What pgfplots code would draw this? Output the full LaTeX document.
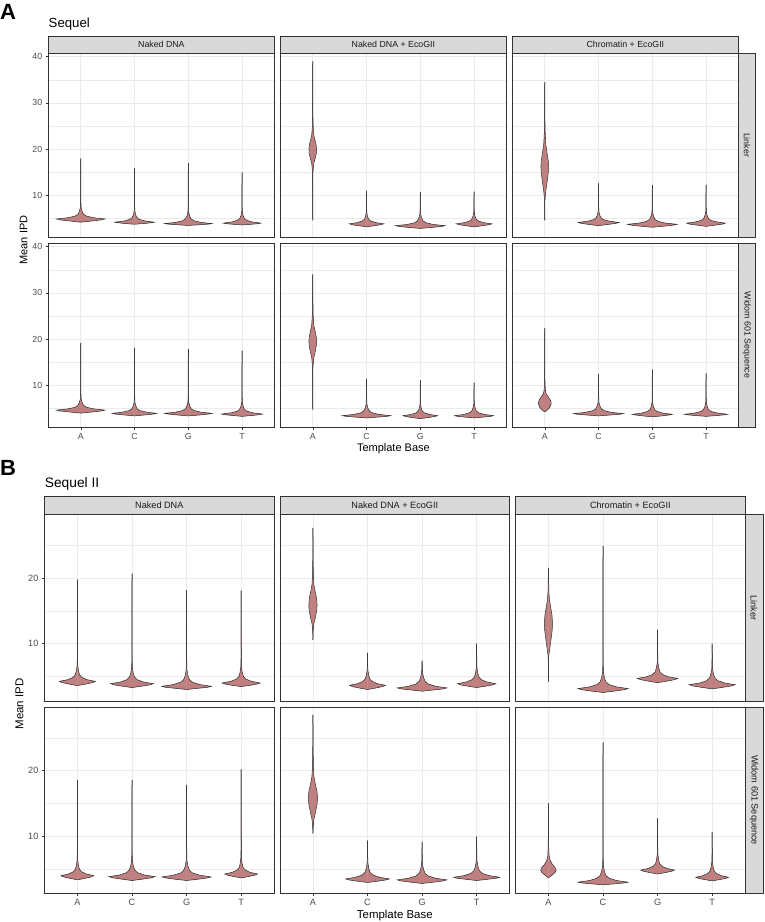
\documentclass[border=0pt]{standalone}
\usepackage{fontspec}
\setmainfont{Liberation Sans}
\usepackage{pgfplots}
\usepackage{pgfplotstable}
\pgfplotsset{compat=1.18}
\definecolor{vfill}{RGB}{192,128,128}
\definecolor{grey20}{HTML}{333333}
\definecolor{grey30}{HTML}{4D4D4D}
\definecolor{grey10}{HTML}{1A1A1A}
\definecolor{grey85}{HTML}{D9D9D9}
\definecolor{grey92}{HTML}{EBEBEB}

% ---------- Sequel (panel A) ----------
% Linker
\pgfplotstableread[row sep=\\]{y w\\ 4.2 0\\ 4.45 0.20\\ 4.69 0.38\\ 4.9 0.45\\ 5.15 0.25\\ 5.5 0.11\\ 5.9 0.054\\ 6.5 0.027\\ 7.4 0.007\\ 8.9 0.003\\ 18.0 0\\}\vALNA
\pgfplotstableread[row sep=\\]{y w\\ 3.75 0\\ 3.91 0.17\\ 4.07 0.31\\ 4.2 0.37\\ 4.45 0.20\\ 4.8 0.093\\ 5.2 0.044\\ 5.8 0.022\\ 6.7 0.0055\\ 8.2 0.0025\\ 15.9 0\\}\vALNC
\pgfplotstableread[row sep=\\]{y w\\ 3.5 0\\ 3.64 0.20\\ 3.78 0.37\\ 3.9 0.44\\ 4.15 0.24\\ 4.5 0.11\\ 4.9 0.053\\ 5.5 0.026\\ 6.4 0.0065\\ 7.9 0.003\\ 17.0 0\\}\vALNG
\pgfplotstableread[row sep=\\]{y w\\ 3.6 0\\ 3.74 0.16\\ 3.88 0.30\\ 4.0 0.35\\ 4.25 0.19\\ 4.6 0.088\\ 5.0 0.042\\ 5.6 0.021\\ 6.5 0.0055\\ 8.0 0.002\\ 15.0 0\\}\vALNT
\pgfplotstableread[row sep=\\]{y w\\ 4.6 0\\ 10 0.002\\ 15 0.004\\ 17 0.02\\ 18 0.045\\ 19 0.065\\ 20 0.071\\ 21 0.062\\ 22 0.04\\ 23 0.02\\ 24.5 0.01\\ 27 0.004\\ 32 0.002\\ 39 0\\}\vALEA
\pgfplotstableread[row sep=\\]{y w\\ 3.2 0\\ 3.43 0.144\\ 3.66 0.27\\ 3.85 0.32\\ 4.1 0.176\\ 4.45 0.08\\ 4.85 0.038\\ 5.45 0.019\\ 6.35 0.005\\ 7.85 0.002\\ 11.0 0\\}\vALEC
\pgfplotstableread[row sep=\\]{y w\\ 2.85 0\\ 3.06 0.21\\ 3.27 0.39\\ 3.45 0.46\\ 3.7 0.25\\ 4.05 0.115\\ 4.45 0.055\\ 5.05 0.028\\ 5.95 0.007\\ 7.45 0.003\\ 10.7 0\\}\vALEG
\pgfplotstableread[row sep=\\]{y w\\ 3.2 0\\ 3.43 0.15\\ 3.66 0.28\\ 3.85 0.33\\ 4.1 0.18\\ 4.45 0.083\\ 4.85 0.04\\ 5.45 0.02\\ 6.35 0.005\\ 7.85 0.002\\ 10.8 0\\}\vALET
\pgfplotstableread[row sep=\\]{y w\\ 4.6 0\\ 7 0.002\\ 9 0.004\\ 11 0.02\\ 13 0.045\\ 15 0.066\\ 16.3 0.072\\ 17.5 0.065\\ 19 0.045\\ 21 0.02\\ 23 0.01\\ 26 0.004\\ 30 0.002\\ 34.5 0\\}\vALCA
\pgfplotstableread[row sep=\\]{y w\\ 3.45 0\\ 3.7 0.17\\ 3.94 0.32\\ 4.15 0.38\\ 4.4 0.21\\ 4.75 0.095\\ 5.15 0.046\\ 5.75 0.023\\ 6.65 0.0055\\ 8.15 0.0025\\ 12.6 0\\}\vALCC
\pgfplotstableread[row sep=\\]{y w\\ 3.1 0\\ 3.33 0.21\\ 3.56 0.39\\ 3.75 0.46\\ 4.0 0.25\\ 4.35 0.115\\ 4.75 0.055\\ 5.35 0.028\\ 6.25 0.007\\ 7.75 0.003\\ 12.2 0\\}\vALCG
\pgfplotstableread[row sep=\\]{y w\\ 3.3 0\\ 3.55 0.16\\ 3.79 0.31\\ 4.0 0.36\\ 4.25 0.2\\ 4.6 0.09\\ 5.0 0.043\\ 5.6 0.022\\ 6.5 0.0055\\ 8.0 0.002\\ 12.3 0\\}\vALCT
% Widom 601
\pgfplotstableread[row sep=\\]{y w\\ 4.0 0\\ 4.23 0.2\\ 4.46 0.38\\ 4.65 0.45\\ 4.9 0.25\\ 5.25 0.11\\ 5.65 0.054\\ 6.25 0.027\\ 7.15 0.007\\ 8.65 0.003\\ 19.2 0\\}\vAWNA
\pgfplotstableread[row sep=\\]{y w\\ 3.4 0\\ 3.59 0.18\\ 3.79 0.35\\ 3.95 0.41\\ 4.2 0.23\\ 4.55 0.1\\ 4.95 0.049\\ 5.55 0.025\\ 6.45 0.006\\ 7.95 0.0025\\ 18.1 0\\}\vAWNC
\pgfplotstableread[row sep=\\]{y w\\ 3.4 0\\ 3.59 0.2\\ 3.79 0.37\\ 3.95 0.44\\ 4.2 0.24\\ 4.55 0.11\\ 4.95 0.053\\ 5.55 0.026\\ 6.45 0.0065\\ 7.95 0.003\\ 17.9 0\\}\vAWNG
\pgfplotstableread[row sep=\\]{y w\\ 3.3 0\\ 3.48 0.17\\ 3.65 0.32\\ 3.8 0.38\\ 4.05 0.21\\ 4.4 0.095\\ 4.8 0.046\\ 5.4 0.023\\ 6.3 0.0055\\ 7.8 0.0025\\ 17.5 0\\}\vAWNT
\pgfplotstableread[row sep=\\]{y w\\ 4.75 0\\ 10 0.002\\ 14 0.004\\ 16 0.02\\ 17.3 0.045\\ 18.5 0.065\\ 19.5 0.072\\ 20.5 0.065\\ 21.7 0.045\\ 23 0.02\\ 25 0.009\\ 28 0.004\\ 34 0\\}\vAWEA
\pgfplotstableread[row sep=\\]{y w\\ 2.95 0\\ 3.13 0.2\\ 3.3 0.38\\ 3.45 0.45\\ 3.7 0.25\\ 4.05 0.11\\ 4.45 0.054\\ 5.05 0.027\\ 5.95 0.007\\ 7.45 0.003\\ 11.4 0\\}\vAWEC
\pgfplotstableread[row sep=\\]{y w\\ 2.8 0\\ 3.03 0.144\\ 3.26 0.27\\ 3.45 0.32\\ 3.7 0.176\\ 4.05 0.08\\ 4.45 0.038\\ 5.05 0.019\\ 5.95 0.005\\ 7.45 0.002\\ 11.1 0\\}\vAWEG
\pgfplotstableread[row sep=\\]{y w\\ 2.95 0\\ 3.13 0.16\\ 3.3 0.31\\ 3.45 0.36\\ 3.7 0.2\\ 4.05 0.09\\ 4.45 0.043\\ 5.05 0.022\\ 5.95 0.0055\\ 7.45 0.002\\ 10.6 0\\}\vAWET
\pgfplotstableread[row sep=\\]{y w\\ 4.25 0\\ 4.6 0.04\\ 5.2 0.09\\ 5.8 0.115\\ 6.3 0.118\\ 6.9 0.1\\ 7.6 0.06\\ 8.2 0.025\\ 9 0.012\\ 10.5 0.005\\ 13 0.003\\ 16 0.002\\ 22.4 0\\}\vAWCA
\pgfplotstableread[row sep=\\]{y w\\ 3.4 0\\ 3.58 0.21\\ 3.75 0.39\\ 3.9 0.46\\ 4.15 0.25\\ 4.5 0.115\\ 4.9 0.055\\ 5.5 0.028\\ 6.4 0.007\\ 7.9 0.003\\ 12.5 0\\}\vAWCC
\pgfplotstableread[row sep=\\]{y w\\ 3.2 0\\ 3.39 0.17\\ 3.59 0.31\\ 3.75 0.37\\ 4.0 0.2\\ 4.35 0.093\\ 4.75 0.044\\ 5.35 0.022\\ 6.25 0.0055\\ 7.75 0.0025\\ 13.4 0\\}\vAWCG
\pgfplotstableread[row sep=\\]{y w\\ 3.3 0\\ 3.46 0.18\\ 3.62 0.34\\ 3.75 0.4\\ 4.0 0.22\\ 4.35 0.1\\ 4.75 0.048\\ 5.35 0.024\\ 6.25 0.006\\ 7.75 0.0025\\ 12.6 0\\}\vAWCT

% ---------- Sequel II (panel B) ----------
% Linker
\pgfplotstableread[row sep=\\]{y w\\ 3.6 0\\ 3.83 0.15\\ 4.06 0.28\\ 4.25 0.33\\ 4.5 0.18\\ 4.85 0.083\\ 5.25 0.04\\ 5.85 0.02\\ 6.75 0.005\\ 8.25 0.002\\ 19.8 0\\}\vBLNA
\pgfplotstableread[row sep=\\]{y w\\ 3.3 0\\ 3.51 0.18\\ 3.72 0.33\\ 3.9 0.39\\ 4.15 0.21\\ 4.5 0.098\\ 4.9 0.047\\ 5.5 0.023\\ 6.4 0.006\\ 7.9 0.0025\\ 20.7 0\\}\vBLNC
\pgfplotstableread[row sep=\\]{y w\\ 3.0 0\\ 3.18 0.2\\ 3.35 0.39\\ 3.5 0.455\\ 3.75 0.25\\ 4.1 0.114\\ 4.5 0.055\\ 5.1 0.027\\ 6.0 0.007\\ 7.5 0.003\\ 18.2 0\\}\vBLNG
\pgfplotstableread[row sep=\\]{y w\\ 3.45 0\\ 3.64 0.16\\ 3.84 0.3\\ 4.0 0.35\\ 4.25 0.19\\ 4.6 0.088\\ 5.0 0.042\\ 5.6 0.021\\ 6.5 0.0055\\ 8.0 0.002\\ 18.1 0\\}\vBLNT
\pgfplotstableread[row sep=\\]{y w\\ 10.6 0\\ 12 0.005\\ 13 0.015\\ 14 0.045\\ 15 0.068\\ 15.9 0.076\\ 17 0.066\\ 18 0.04\\ 19 0.018\\ 20.5 0.008\\ 23 0.003\\ 27.7 0\\}\vBLEA
\pgfplotstableread[row sep=\\]{y w\\ 3.0 0\\ 3.23 0.15\\ 3.46 0.28\\ 3.65 0.33\\ 3.9 0.18\\ 4.25 0.083\\ 4.65 0.04\\ 5.25 0.02\\ 6.15 0.005\\ 7.65 0.002\\ 8.6 0\\}\vBLEC
\pgfplotstableread[row sep=\\]{y w\\ 2.75 0\\ 2.93 0.2\\ 3.1 0.39\\ 3.25 0.455\\ 3.5 0.25\\ 3.85 0.114\\ 4.25 0.055\\ 4.85 0.027\\ 5.75 0.007\\ 7.0 0.003\\ 7.4 0\\}\vBLEG
\pgfplotstableread[row sep=\\]{y w\\ 3.3 0\\ 3.51 0.16\\ 3.72 0.3\\ 3.9 0.35\\ 4.15 0.19\\ 4.5 0.088\\ 4.9 0.042\\ 5.5 0.021\\ 6.4 0.0055\\ 7.9 0.002\\ 10.0 0\\}\vBLET
\pgfplotstableread[row sep=\\]{y w\\ 4.2 0\\ 6 0.002\\ 8 0.004\\ 9 0.02\\ 10.5 0.045\\ 12 0.068\\ 13.1 0.074\\ 14.3 0.066\\ 15.4 0.045\\ 16.6 0.02\\ 18 0.008\\ 21.6 0\\}\vBLCA
\pgfplotstableread[row sep=\\]{y w\\ 2.55 0\\ 2.76 0.21\\ 2.97 0.39\\ 3.15 0.46\\ 3.4 0.25\\ 3.75 0.115\\ 4.15 0.055\\ 4.75 0.028\\ 5.65 0.007\\ 7.15 0.003\\ 24.9 0\\}\vBLCC
\pgfplotstableread[row sep=\\]{y w\\ 4.05 0\\ 4.28 0.17\\ 4.51 0.31\\ 4.7 0.37\\ 4.95 0.2\\ 5.3 0.093\\ 5.7 0.044\\ 6.3 0.022\\ 7.2 0.0055\\ 8.7 0.0025\\ 12.1 0\\}\vBLCG
\pgfplotstableread[row sep=\\]{y w\\ 3.1 0\\ 3.33 0.19\\ 3.56 0.36\\ 3.75 0.42\\ 4.0 0.23\\ 4.35 0.105\\ 4.75 0.05\\ 5.35 0.025\\ 6.25 0.0065\\ 7.75 0.0025\\ 10.0 0\\}\vBLCT
% Widom 601
\pgfplotstableread[row sep=\\]{y w\\ 3.3 0\\ 3.53 0.135\\ 3.76 0.255\\ 3.95 0.3\\ 4.2 0.165\\ 4.55 0.075\\ 4.95 0.036\\ 5.55 0.018\\ 6.45 0.0045\\ 7.95 0.002\\ 18.6 0\\}\vBWNA
\pgfplotstableread[row sep=\\]{y w\\ 3.2 0\\ 3.41 0.19\\ 3.62 0.36\\ 3.8 0.42\\ 4.05 0.23\\ 4.4 0.105\\ 4.8 0.05\\ 5.4 0.025\\ 6.3 0.0065\\ 7.8 0.0025\\ 18.6 0\\}\vBWNC
\pgfplotstableread[row sep=\\]{y w\\ 3.2 0\\ 3.39 0.2\\ 3.59 0.38\\ 3.75 0.45\\ 4.0 0.25\\ 4.35 0.11\\ 4.75 0.054\\ 5.35 0.027\\ 6.25 0.007\\ 7.75 0.003\\ 17.8 0\\}\vBWNG
\pgfplotstableread[row sep=\\]{y w\\ 3.6 0\\ 3.81 0.135\\ 4.02 0.255\\ 4.2 0.3\\ 4.45 0.165\\ 4.8 0.075\\ 5.2 0.036\\ 5.8 0.018\\ 6.7 0.0045\\ 8.2 0.002\\ 20.2 0\\}\vBWNT
\pgfplotstableread[row sep=\\]{y w\\ 10.4 0\\ 11.5 0.006\\ 12.5 0.016\\ 13.8 0.05\\ 14.8 0.075\\ 15.75 0.085\\ 16.8 0.075\\ 17.9 0.045\\ 19 0.02\\ 20.5 0.009\\ 23 0.004\\ 28.5 0\\}\vBWEA
\pgfplotstableread[row sep=\\]{y w\\ 2.9 0\\ 3.09 0.18\\ 3.29 0.34\\ 3.45 0.4\\ 3.7 0.22\\ 4.05 0.1\\ 4.45 0.048\\ 5.05 0.024\\ 5.95 0.006\\ 7.45 0.0025\\ 9.3 0\\}\vBWEC
\pgfplotstableread[row sep=\\]{y w\\ 2.75 0\\ 2.94 0.2\\ 3.14 0.39\\ 3.3 0.455\\ 3.55 0.25\\ 3.9 0.114\\ 4.3 0.055\\ 4.9 0.027\\ 5.8 0.007\\ 7.3 0.003\\ 9.1 0\\}\vBWEG
\pgfplotstableread[row sep=\\]{y w\\ 3.2 0\\ 3.38 0.19\\ 3.55 0.36\\ 3.7 0.42\\ 3.95 0.23\\ 4.3 0.105\\ 4.7 0.05\\ 5.3 0.025\\ 6.2 0.0065\\ 7.7 0.0025\\ 9.9 0\\}\vBWET
\pgfplotstableread[row sep=\\]{y w\\ 3.6 0\\ 4.0 0.06\\ 4.4 0.12\\ 4.75 0.143\\ 5.2 0.12\\ 5.7 0.07\\ 6.3 0.03\\ 7 0.012\\ 8.5 0.005\\ 11 0.002\\ 15 0\\}\vBWCA
\pgfplotstableread[row sep=\\]{y w\\ 2.55 0\\ 2.69 0.21\\ 2.83 0.39\\ 2.95 0.46\\ 3.2 0.25\\ 3.55 0.115\\ 3.95 0.055\\ 4.55 0.028\\ 5.45 0.007\\ 6.95 0.003\\ 24.3 0\\}\vBWCC
\pgfplotstableread[row sep=\\]{y w\\ 4.2 0\\ 4.41 0.14\\ 4.62 0.26\\ 4.8 0.31\\ 5.05 0.17\\ 5.4 0.078\\ 5.8 0.037\\ 6.4 0.019\\ 7.3 0.0045\\ 8.8 0.002\\ 12.7 0\\}\vBWCG
\pgfplotstableread[row sep=\\]{y w\\ 3.15 0\\ 3.34 0.135\\ 3.54 0.255\\ 3.7 0.3\\ 3.95 0.165\\ 4.3 0.075\\ 4.7 0.036\\ 5.3 0.018\\ 6.2 0.0045\\ 7.7 0.002\\ 10.6 0\\}\vBWCT

% violin: filled halves (slightly overlapping at the centre), then dark outline
\newcommand{\violin}[2]{%
  \addplot[fill=vfill, draw=none, forget plot] table[x expr={#1-\thisrow{w}+0.003}, y=y]{#2} -- cycle;
  \addplot[fill=vfill, draw=none, forget plot] table[x expr={#1+\thisrow{w}-0.003}, y=y]{#2} -- cycle;
  \addplot[draw=black!85, line width=0.5pt, forget plot] table[x expr={#1-\thisrow{w}}, y=y]{#2};
  \addplot[draw=black!85, line width=0.5pt, forget plot] table[x expr={#1+\thisrow{w}}, y=y]{#2};
}
\newcommand{\four}[4]{\violin{1}{#1}\violin{2}{#2}\violin{3}{#3}\violin{4}{#4}}

\pgfplotsset{
  facet/.style={
    scale only axis, anchor=south west,
    xmin=0.4, xmax=4.6,
    xtick={1,2,3,4}, xticklabels={A,C,G,T},
    xmajorgrids, ymajorgrids, yminorgrids,
    major grid style={grey92, line width=0.55pt},
    minor grid style={grey92, line width=0.3pt},
    axis line style={grey20, line width=0.5pt},
    tick align=outside,
    major tick length=2.75pt, minor tick length=0pt,
    tick style={grey20, line width=0.5pt},
    xtick pos=bottom, ytick pos=left,
    /pgf/number format/assume math mode=true,
  },
  faceta/.style={facet, width=225.8pt, height=184pt, ymin=1.0, ymax=40.8,
    ytick={10,20,30,40}, minor ytick={5,15,25,35},
    ticklabel style={font=\fontsize{8.8}{9}\selectfont, text=grey30}},
  facetb/.style={facet, width=229.2pt, height=186.5pt, ymin=1.25, ymax=29.75,
    ytick={10,20}, minor ytick={5,15,25},
    ticklabel style={font=\fontsize{9.15}{9.5}\selectfont, text=grey30}},
  nox/.style={xticklabels={}, xtick style={draw=none}},
  noy/.style={yticklabels={}, ytick style={draw=none}},
}

\begin{document}
\begin{tikzpicture}[x=1pt,y=1pt]
\useasboundingbox (0,0) rectangle (764,922);

% ===== Panel A: Sequel =====
\node[anchor=base west, font=\bfseries\fontsize{22}{22}\selectfont, inner sep=0pt] at (0,902) {A};
\node[anchor=base west, font=\fontsize{13.2}{14}\selectfont, inner sep=0pt] at (48.5,894.7) {Sequel};

\begin{axis}[faceta, nox, at={(48.5pt,685pt)}]
\four{\vALNA}{\vALNC}{\vALNG}{\vALNT}
\end{axis}
\begin{axis}[faceta, nox, noy, at={(280.5pt,685pt)}]
\four{\vALEA}{\vALEC}{\vALEG}{\vALET}
\end{axis}
\begin{axis}[faceta, nox, noy, at={(512.5pt,685pt)}]
\four{\vALCA}{\vALCC}{\vALCG}{\vALCT}
\end{axis}
\begin{axis}[faceta, at={(48.5pt,495pt)}]
\four{\vAWNA}{\vAWNC}{\vAWNG}{\vAWNT}
\end{axis}
\begin{axis}[faceta, noy, at={(280.5pt,495pt)}]
\four{\vAWEA}{\vAWEC}{\vAWEG}{\vAWET}
\end{axis}
\begin{axis}[faceta, noy, at={(512.5pt,495pt)}]
\four{\vAWCA}{\vAWCC}{\vAWCG}{\vAWCT}
\end{axis}

\begin{scope}[every node/.style={font=\fontsize{8.8}{9}\selectfont, text=grey10}]
\draw[grey20, line width=0.5pt, fill=grey85] (48.5,869) rectangle (274.3,885.5);
\node at (161.4,877.25) {Naked DNA};
\draw[grey20, line width=0.5pt, fill=grey85] (280.5,869) rectangle (506.3,885.5);
\node at (393.4,877.25) {Naked DNA + EcoGII};
\draw[grey20, line width=0.5pt, fill=grey85] (512.5,869) rectangle (738.3,885.5);
\node at (625.4,877.25) {Chromatin + EcoGII};
\draw[grey20, line width=0.5pt, fill=grey85] (738.3,685) rectangle (755.5,869);
\node[rotate=-90] at (746.9,777) {Linker};
\draw[grey20, line width=0.5pt, fill=grey85] (738.3,495) rectangle (755.5,679);
\node[rotate=-90] at (746.9,587) {Widom 601 Sequence};
\end{scope}
\node[rotate=90, font=\fontsize{11}{12}\selectfont] at (23.7,682) {Mean IPD};
\node[anchor=base, font=\fontsize{11}{12}\selectfont] at (393.4,470) {Template Base};

% ===== Panel B: Sequel II =====
\node[anchor=base west, font=\bfseries\fontsize{22}{22}\selectfont, inner sep=0pt] at (0,446) {B};
\node[anchor=base west, font=\fontsize{13.75}{14}\selectfont, inner sep=0pt] at (44.7,434) {Sequel II};

\begin{axis}[facetb, nox, at={(44.7pt,221pt)}]
\four{\vBLNA}{\vBLNC}{\vBLNG}{\vBLNT}
\end{axis}
\begin{axis}[facetb, nox, noy, at={(280.2pt,221pt)}]
\four{\vBLEA}{\vBLEC}{\vBLEG}{\vBLET}
\end{axis}
\begin{axis}[facetb, nox, noy, at={(515.7pt,221pt)}]
\four{\vBLCA}{\vBLCC}{\vBLCG}{\vBLCT}
\end{axis}
\begin{axis}[facetb, at={(44.7pt,28.7pt)}]
\four{\vBWNA}{\vBWNC}{\vBWNG}{\vBWNT}
\end{axis}
\begin{axis}[facetb, noy, at={(280.2pt,28.7pt)}]
\four{\vBWEA}{\vBWEC}{\vBWEG}{\vBWET}
\end{axis}
\begin{axis}[facetb, noy, at={(515.7pt,28.7pt)}]
\four{\vBWCA}{\vBWCC}{\vBWCG}{\vBWCT}
\end{axis}

\begin{scope}[every node/.style={font=\fontsize{9.15}{9.5}\selectfont, text=grey10}]
\draw[grey20, line width=0.5pt, fill=grey85] (44.7,407.5) rectangle (273.9,426);
\node at (159.3,416.75) {Naked DNA};
\draw[grey20, line width=0.5pt, fill=grey85] (280.2,407.5) rectangle (509.4,426);
\node at (394.8,416.75) {Naked DNA + EcoGII};
\draw[grey20, line width=0.5pt, fill=grey85] (515.7,407.5) rectangle (744.9,426);
\node at (630.3,416.75) {Chromatin + EcoGII};
\draw[grey20, line width=0.5pt, fill=grey85] (744.9,221) rectangle (763,407.5);
\node[rotate=-90] at (753.95,314.25) {Linker};
\draw[grey20, line width=0.5pt, fill=grey85] (744.9,28.7) rectangle (763,215.2);
\node[rotate=-90] at (753.95,121.95) {Widom 601 Sequence};
\end{scope}
\node[rotate=90, font=\fontsize{11.45}{12}\selectfont] at (19.5,218.1) {Mean IPD};
\node[anchor=base, font=\fontsize{11.45}{12}\selectfont] at (394.8,3.3) {Template Base};
\end{tikzpicture}
\end{document}
